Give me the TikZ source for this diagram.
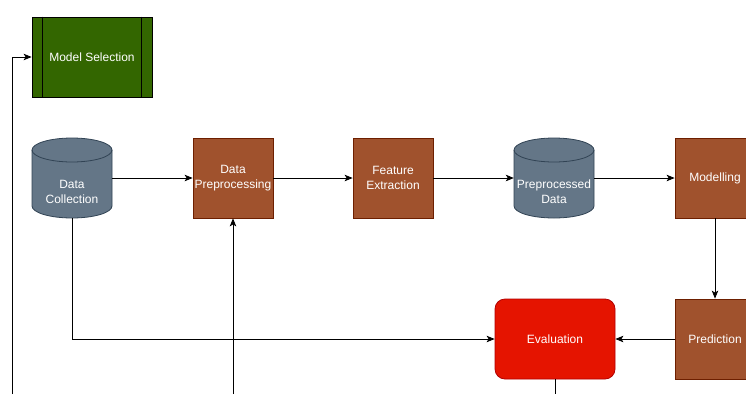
\documentclass[tikz,border=0pt]{standalone}
\usepackage{fontspec}
\setmainfont{Liberation Sans}
\usetikzlibrary{arrows.meta}
\definecolor{siennaF}{HTML}{A0522D}
\definecolor{siennaB}{HTML}{6D1F00}
\definecolor{slateF}{HTML}{647687}
\definecolor{slateB}{HTML}{314354}
\definecolor{greenF}{HTML}{336600}
\definecolor{redF}{HTML}{E51400}
\definecolor{redB}{HTML}{B20000}
\tikzset{
  txt/.style={text=white, align=center, font=\fontsize{12}{15}\selectfont, inner sep=0pt},
  box/.style={txt, draw=siennaB, fill=siennaF, line width=0.8pt, minimum width=80pt, minimum height=80pt},
  holder/.style={minimum width=80pt, minimum height=80pt, inner sep=0pt},
  cylbody/.style={fill=slateF, draw=slateB, line width=0.8pt},
  conn/.style={draw=black, line width=0.8pt, -{Stealth[length=8pt,width=6.5pt,inset=2pt]}},
  plain/.style={draw=black, line width=0.8pt}
}
\newcommand{\cylat}[2]{%
  \path[cylbody] (#1-40,#2-28) -- (#1-40,#2+28)
    arc[start angle=180,end angle=0,x radius=40,y radius=12]
    -- (#1+40,#2-28)
    arc[start angle=0,end angle=-180,x radius=40,y radius=12] -- cycle;
  \draw[slateB, line width=0.8pt] (#1-40,#2-28) arc[start angle=180,end angle=0,x radius=40,y radius=12];
}
\begin{document}
\begin{tikzpicture}[x=1pt,y=-1pt]
\useasboundingbox (0,0) rectangle (746,394);
\clip (0,0) rectangle (746,394);
\fill[white] (0,0) rectangle (746,394);

% Model Selection
\node[txt, draw=black, fill=greenF, line width=0.8pt, minimum width=120pt, minimum height=80pt] (ms) at (92,57) {Model Selection};
\draw[line width=0.8pt] ([xshift=11pt]ms.north west) -- ([xshift=11pt]ms.south west);
\draw[line width=0.8pt] ([xshift=-11pt]ms.north east) -- ([xshift=-11pt]ms.south east);

% Data Collection (cylinder)
\cylat{72}{178}
\node[holder] (dc) at (72,178) {};
\node[txt] (dct) at (72,192) {Data\\Collection};

% Boxes
\node[box] (dp) at (233,178) {Data\\Preprocessing};
\node[box] (fe) at (393,178) {Feature\\Extraction};

% Preprocessed Data (cylinder)
\cylat{554}{178}
\node[holder] (pd) at (554,178) {};
\node[txt] (pdt) at (554,192) {Preprocessed\\Data};

\node[box] (mo) at (715,178) {Modelling};
\node[box] (pr) at (715,339) {Prediction};
\node[txt, draw=redB, fill=redF, line width=0.8pt, rounded corners=10pt, minimum width=120pt, minimum height=80pt] (ev) at (555,339) {Evaluation};

% free ends at bottom edge
\coordinate (l0) at (12,394);
\coordinate (l1) at (233,394);
\coordinate (l2) at (555,394);

% connectors
\draw[conn] (l0) |- (ms.west);
\draw[conn] (dc.east) -- (dp.west);
\draw[conn] (dp.east) -- (fe.west);
\draw[conn] (fe.east) -- (pd.west);
\draw[conn] (pd.east) -- (mo.west);
\draw[conn] (mo.south) -- (pr.north);
\draw[conn] (pr.west) -- (ev.east);
\draw[conn] (dc.south) |- (ev.west);
\draw[conn] (l1) -- (dp.south);
\draw[plain] (ev.south) -- (l2);
\end{tikzpicture}
\end{document}
